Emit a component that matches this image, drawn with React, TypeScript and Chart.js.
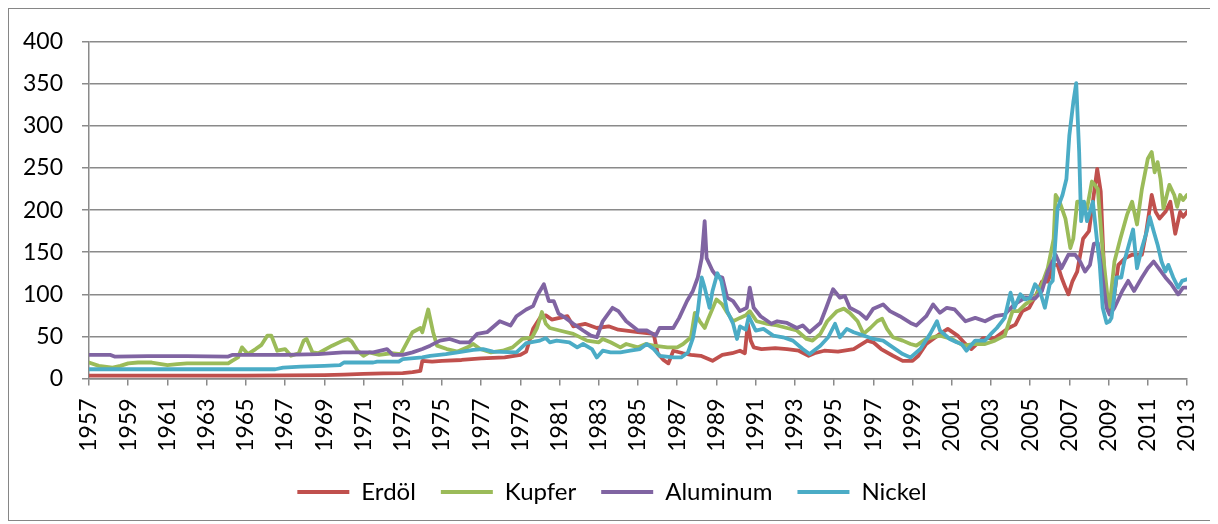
import React, { useEffect, useRef } from 'react';
import { Chart, registerables } from 'chart.js';

Chart.register(...registerables);

const FONT = 'Lato, "Noto Sans", sans-serif';

const seriesNames = ['Erdöl', 'Kupfer', 'Aluminum', 'Nickel'];
const seriesColors = ['#C0504D', '#9BBB59', '#8064A2', '#4BACC6'];

const yMin = 0;
const yMax = 400;
const yStep = 50;
const xMin = 1957;
const xMax = 2013;
const xStep = 2;

const oilYears = [1957, 1960, 1965, 1969, 1970, 1971, 1972, 1973, 1973.5, 1973.9, 1974.0, 1974.5, 1975, 1976, 1977, 1978.2, 1979, 1979.3, 1979.65, 1980, 1980.3, 1980.6, 1981, 1981.4, 1981.7, 1982.3, 1982.9, 1983.5, 1984, 1985, 1985.8, 1986.0, 1986.3, 1986.55, 1986.8, 1987.3, 1987.7, 1988.2, 1988.8, 1989.3, 1989.8, 1990.2, 1990.45, 1990.6, 1990.75, 1990.9, 1991.3, 1992, 1992.6, 1993.2, 1993.7, 1994.0, 1994.5, 1995.2, 1996, 1996.7, 1997, 1997.4, 1998, 1998.5, 1999, 1999.3, 1999.7, 2000.4, 2000.8, 2001.3, 2001.7, 2002, 2002.6, 2003.2, 2003.9, 2004.25, 2004.6, 2004.95, 2005.3, 2005.6, 2005.9, 2006.2, 2006.4, 2006.6, 2006.8, 2006.95, 2007.15, 2007.4, 2007.7, 2008, 2008.2, 2008.42, 2008.6, 2008.8, 2009.0, 2009.2, 2009.5, 2009.85, 2010.2, 2010.7, 2010.9, 2011.2, 2011.4, 2011.6, 2011.9, 2012.15, 2012.4, 2012.65, 2012.8, 2013];
const oilValues = [3.5, 3.5, 3.5, 4, 4.5, 5.5, 6, 6.5, 7.5, 9, 21, 20, 21, 22, 24, 25, 28, 32, 59, 72, 75, 70, 72, 74, 62, 65, 60, 62, 58, 55, 53, 30, 22, 18, 33, 30, 28, 27, 21, 28, 30, 33, 30, 65, 45, 37, 35, 36, 35, 33, 27, 30, 33, 32, 35, 45, 43, 35, 27, 21, 21, 27, 41, 53, 59, 51, 41, 35, 48, 48, 60, 64, 80, 84, 99, 115, 115, 135, 135, 120, 108, 100, 115, 127, 166, 175, 210, 249, 222, 110, 80, 84, 135, 143, 147, 147, 171, 218, 198, 190, 198, 210, 172, 198, 192, 198];

const copperYears = [1957, 1957.5, 1958.2, 1958.6, 1959, 1959.5, 1960.2, 1961, 1961.5, 1962, 1963, 1964.1, 1964.3, 1964.6, 1964.8, 1965.1, 1965.5, 1965.8, 1966.1, 1966.3, 1966.6, 1967, 1967.3, 1967.7, 1967.95, 1968.1, 1968.4, 1968.7, 1969.4, 1969.95, 1970.2, 1970.4, 1970.7, 1971, 1971.3, 1971.8, 1972.4, 1972.9, 1973.2, 1973.5, 1973.9, 1974.0, 1974.3, 1974.55, 1974.75, 1975.25, 1975.8, 1976.3, 1976.6, 1976.95, 1977.5, 1978.1, 1978.6, 1979.1, 1979.6, 1979.85, 1980.1, 1980.3, 1980.5, 1981, 1981.7, 1982.4, 1983, 1983.2, 1983.6, 1984.1, 1984.4, 1985, 1985.4, 1985.8, 1986.5, 1987, 1987.3, 1987.7, 1987.9, 1988.15, 1988.4, 1988.6, 1989, 1989.3, 1989.5, 1989.85, 1990.2, 1990.5, 1990.7, 1991.05, 1991.6, 1992.1, 1992.6, 1993.1, 1993.6, 1993.9, 1994.3, 1994.65, 1995.15, 1995.5, 1995.8, 1996.2, 1996.5, 1996.85, 1997.2, 1997.45, 1997.7, 1998, 1998.5, 1998.9, 1999.2, 1999.7, 2000.4, 2001, 2001.6, 2002.2, 2002.7, 2003.2, 2003.7, 2004.1, 2004.4, 2004.75, 2005.25, 2005.6, 2005.9, 2006.2, 2006.3, 2006.5, 2006.8, 2007.05, 2007.2, 2007.4, 2007.65, 2007.9, 2008.15, 2008.3, 2008.45, 2008.7, 2008.95, 2009.05, 2009.3, 2009.6, 2009.95, 2010.2, 2010.45, 2010.7, 2011.0, 2011.2, 2011.35, 2011.5, 2011.65, 2011.8, 2012.1, 2012.35, 2012.5, 2012.65, 2012.8, 2013];
const copperValues = [19, 15, 13, 15, 18, 19, 19, 16, 17, 18, 18, 18, 21, 25, 37, 29, 35, 40, 51, 51, 33, 35, 27, 30, 45, 47, 31, 30, 39, 45, 47, 44, 33, 27, 31, 28, 30, 29, 42, 55, 60, 55, 82, 55, 39, 35, 32, 37, 41, 35, 31, 33, 37, 47, 49, 60, 79, 65, 60, 57, 53, 45, 43, 47, 43, 37, 41, 37, 41, 39, 37, 37, 41, 49, 78, 68, 60, 72, 94, 88, 80, 68, 72, 75, 80, 68, 65, 63, 60, 57, 47, 45, 53, 68, 80, 83, 78, 68, 53, 60, 68, 71, 59, 49, 45, 41, 39, 47, 51, 47, 39, 41, 41, 45, 51, 80, 80, 88, 96, 112, 131, 166, 218, 210, 190, 155, 166, 210, 210, 202, 234, 230, 225, 151, 96, 85, 139, 166, 195, 210, 183, 225, 261, 269, 245, 257, 237, 202, 230, 218, 204, 218, 212, 218];

const aluYears = [1957, 1958.1, 1958.3, 1960, 1962, 1964.1, 1964.3, 1967, 1968.7, 1969.95, 1971.5, 1972.2, 1972.5, 1973.0, 1973.5, 1974, 1974.4, 1974.9, 1975.4, 1975.9, 1976.4, 1976.8, 1977.3, 1977.95, 1978.5, 1978.8, 1979.3, 1979.65, 1979.9, 1980.2, 1980.45, 1980.7, 1980.95, 1981.3, 1981.7, 1982.2, 1982.6, 1982.9, 1983.2, 1983.7, 1984, 1984.4, 1985, 1985.45, 1985.9, 1986.1, 1986.8, 1987.1, 1987.5, 1987.8, 1988.05, 1988.25, 1988.4, 1988.5, 1988.8, 1989.0, 1989.3, 1989.55, 1989.85, 1990.2, 1990.55, 1990.7, 1990.9, 1991.25, 1991.8, 1992.1, 1992.6, 1993.1, 1993.4, 1993.75, 1994.3, 1994.6, 1994.95, 1995.3, 1995.55, 1995.8, 1996.3, 1996.65, 1997, 1997.5, 1997.85, 1998.35, 1998.9, 1999.2, 1999.7, 2000.05, 2000.4, 2000.75, 2001.15, 2001.7, 2002.2, 2002.7, 2003.2, 2003.7, 2004.2, 2004.75, 2005.25, 2005.6, 2005.9, 2006.3, 2006.6, 2006.95, 2007.3, 2007.55, 2007.8, 2008.05, 2008.25, 2008.45, 2008.65, 2008.9, 2009.05, 2009.3, 2009.7, 2010, 2010.3, 2010.7, 2011, 2011.3, 2011.55, 2011.9, 2012.2, 2012.55, 2012.8, 2013];
const aluValues = [28, 28, 26, 26.5, 26.5, 26, 28, 28, 29, 31, 31, 35, 28, 28, 31, 35, 39, 45, 47, 43, 43, 53, 55, 68, 63, 74, 82, 86, 100, 112, 92, 92, 77, 72, 65, 57, 51, 49, 68, 84, 80, 68, 57, 57, 51, 60, 60, 72, 92, 104, 120, 143, 187, 143, 128, 122, 120, 96, 92, 80, 84, 108, 84, 74, 65, 68, 66, 60, 63, 55, 66, 84, 106, 96, 98, 84, 78, 71, 83, 88, 80, 74, 66, 63, 74, 88, 78, 84, 82, 68, 72, 68, 74, 76, 88, 96, 95, 104, 127, 147, 131, 147, 147, 139, 127, 135, 160, 161, 127, 84, 76, 84, 104, 116, 104, 120, 131, 139, 131, 120, 112, 100, 108, 108];

const nickelYears = [1957, 1958.5, 1966.5, 1966.9, 1967.8, 1969, 1969.8, 1970, 1971.5, 1971.7, 1972.8, 1973, 1974, 1974.4, 1975.2, 1975.8, 1976.6, 1977.1, 1977.6, 1978.8, 1979.3, 1980, 1980.3, 1980.5, 1980.85, 1981.5, 1981.9, 1982.2, 1982.65, 1982.9, 1983.2, 1983.6, 1984.1, 1984.6, 1985.1, 1985.45, 1985.8, 1986.1, 1986.8, 1987.2, 1987.55, 1987.8, 1988.05, 1988.25, 1988.4, 1988.65, 1988.8, 1989.05, 1989.25, 1989.55, 1989.85, 1990.05, 1990.2, 1990.5, 1990.65, 1991.0, 1991.4, 1991.9, 1992.4, 1992.9, 1993.4, 1993.75, 1994.3, 1994.7, 1995.05, 1995.3, 1995.65, 1996, 1996.5, 1997, 1997.5, 1998, 1998.5, 1998.9, 1999.4, 1999.9, 2000.25, 2000.4, 2000.9, 2001.25, 2001.5, 2001.75, 2002.2, 2002.7, 2003, 2003.3, 2003.7, 2004.0, 2004.2, 2004.5, 2004.75, 2005, 2005.25, 2005.5, 2005.75, 2006, 2006.15, 2006.4, 2006.65, 2006.85, 2007.0, 2007.2, 2007.35, 2007.5, 2007.6, 2007.75, 2007.9, 2008.05, 2008.2, 2008.4, 2008.55, 2008.7, 2008.9, 2009.05, 2009.15, 2009.4, 2009.65, 2009.8, 2010.25, 2010.45, 2010.7, 2010.95, 2011.1, 2011.3, 2011.5, 2011.7, 2011.9, 2012.05, 2012.3, 2012.55, 2012.75, 2013];
const nickelValues = [11, 11, 11, 13, 14, 15, 16, 19, 19, 20, 20, 23, 25, 27, 29, 31, 34, 35, 32, 31, 42, 45, 48, 43, 45, 43, 37, 41, 35, 25, 33, 31, 31, 33, 35, 41, 35, 27, 25, 25, 31, 48, 80, 120, 108, 84, 104, 125, 116, 80, 65, 47, 62, 58, 74, 57, 59, 51, 49, 45, 35, 29, 39, 49, 65, 49, 59, 55, 51, 47, 45, 37, 29, 25, 35, 53, 68, 57, 47, 43, 41, 33, 45, 45, 53, 60, 72, 102, 84, 100, 94, 96, 112, 104, 84, 112, 116, 202, 218, 237, 289, 328, 351, 269, 187, 210, 187, 198, 210, 166, 135, 84, 66, 68, 72, 120, 120, 139, 177, 131, 155, 175, 192, 175, 159, 139, 127, 135, 120, 108, 116, 118];

const seriesYears = [oilYears, copperYears, aluYears, nickelYears];
const seriesValues = [oilValues, copperValues, aluValues, nickelValues];

const GRID = '#8a8a8a';

// centre the legend under the whole frame rather than the padded area
const legendShift = {
  id: 'legendShift',
  afterLayout(chart: any) {
    const lg = chart.legend;
    if (lg) {
      lg.left += 14;
      lg.right += 14;
    }
  },
};

export default function App() {
  const ref = useRef<HTMLCanvasElement | null>(null);

  useEffect(() => {
    if (!ref.current) return;
    const datasets = seriesNames.map((name, i) => ({
      label: name,
      data: seriesYears[i].map((x, j) => ({ x, y: seriesValues[i][j] })),
      borderColor: seriesColors[i],
      backgroundColor: seriesColors[i],
      borderWidth: 3.8,
      pointRadius: 0,
      pointHoverRadius: 0,
      tension: 0,
      fill: false,
      order: seriesNames.length - i,
      borderJoinStyle: 'round' as const,
      borderCapStyle: 'round' as const,
    }));

    const chart = new Chart(ref.current, {
      type: 'line',
      data: { datasets },
      plugins: [legendShift],
      options: {
        animation: false,
        responsive: false,
        parsing: false,
        layout: { padding: { top: 30, right: 24, left: 0, bottom: 6 } },
        plugins: {
          tooltip: { enabled: false },
          legend: {
            position: 'bottom',
            labels: {
              usePointStyle: true,
              pointStyle: 'line',
              pointStyleWidth: 52,
              boxHeight: 24,
              padding: 25,
              color: '#000',
              font: { family: FONT, size: 24 },
              sort: (a: any, b: any) => a.datasetIndex - b.datasetIndex,
            },
          },
        },
        scales: {
          x: {
            type: 'linear',
            min: xMin,
            max: xMax,
            afterFit: (s: any) => {
              s.height = 76.5;
              s.paddingLeft = 0;
              s.paddingRight = 0;
            },
            ticks: {
              stepSize: xStep,
              autoSkip: false,
              maxRotation: 90,
              minRotation: 90,
              padding: 13,
              color: '#000',
              font: { family: FONT, size: 23 },
              callback: (v: any) => String(v),
            },
            grid: {
              drawOnChartArea: false,
              drawTicks: true,
              tickLength: 7,
              color: GRID,
              lineWidth: 1.5,
            },
            border: { display: true, color: GRID, width: 1.5 },
          },
          y: {
            min: yMin,
            max: yMax,
            afterFit: (s: any) => { s.width = 80; },
            ticks: {
              stepSize: yStep,
              padding: 19,
              color: '#000',
              font: { family: FONT, size: 23 },
            },
            grid: {
              drawOnChartArea: true,
              drawTicks: true,
              tickLength: 7,
              color: GRID,
              lineWidth: 1.5,
            },
            border: { display: true, color: GRID, width: 1.5 },
          },
        },
      },
    });
    return () => chart.destroy();
  }, []);

  return (
    <div style={{ width: 1202, height: 511, border: '1px solid #868686' }}>
      <canvas ref={ref} width={1202} height={511} style={{ display: 'block' }} />
    </div>
  );
}
